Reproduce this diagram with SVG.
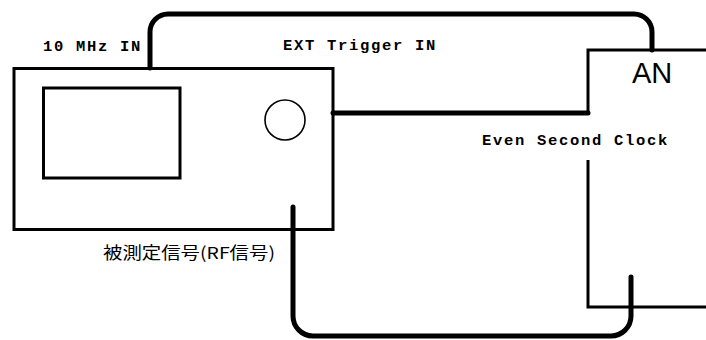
<svg xmlns="http://www.w3.org/2000/svg" width="706" height="340" viewBox="0 0 706 340">
<style>
.box{fill:none;stroke:#000;stroke-width:3}
.thin{fill:none;stroke:#000;stroke-width:1.6}
.cable{fill:none;stroke:#000;stroke-width:5;stroke-linecap:round;stroke-linejoin:round}
.mono{font-family:"Liberation Mono","DejaVu Sans Mono",monospace;font-size:15.5px;font-weight:bold;letter-spacing:1.7px;fill:#000}
.jp{font-family:"Noto Sans CJK JP","Liberation Serif",serif;font-size:16.5px;fill:#000}
.an{font-family:"Liberation Sans",Arial,sans-serif;font-size:29px;fill:#000}
</style>
<rect width="706" height="340" fill="#fff"/>
<g id="analyzer">
<rect class="box" x="14" y="68.5" width="319" height="161"/>
<rect class="box" x="43.5" y="88" width="136.5" height="90"/>
<circle class="thin" cx="285" cy="120" r="20"/>
</g>
<g id="an-device">
<path class="box" d="M706 50 H588 V114 M588 160 V307 H706"/>
<text class="an" x="632" y="83">AN</text>
</g>
<g id="connectors">
<path class="cable" d="M150 68 V32 A18 18 0 0 1 168 14 H634 A18 18 0 0 1 652 32 V50"/>
<path class="cable" d="M333 113 H588"/>
<path class="cable" d="M293 207 V316 A20 20 0 0 0 313 336 H611 A20 20 0 0 0 631 316 V277"/>
</g>
<g id="labels">
<text class="mono" x="43" y="51">10 MHz IN</text>
<text class="mono" x="283" y="50">EXT Trigger IN</text>
<text class="mono" x="482" y="145">Even Second Clock</text>
<text class="jp" x="103" y="259" textLength="172" lengthAdjust="spacingAndGlyphs">被測定信号(RF信号)</text>
</g>
</svg>
